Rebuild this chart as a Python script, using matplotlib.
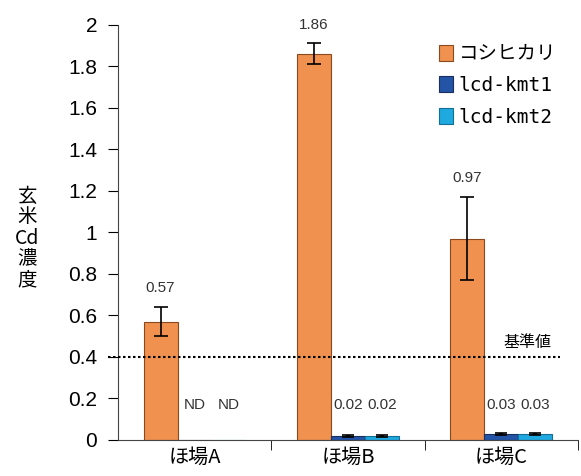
import numpy as np
import matplotlib
matplotlib.use("Agg")
import matplotlib.pyplot as plt

plt.rcParams['font.family'] = ['Noto Sans CJK JP', 'DejaVu Sans']

fields = ["ほ場A", "ほ場B", "ほ場C"]
series = ["コシヒカリ", "lcd-kmt1", "lcd-kmt2"]
koshi = [0.57, 1.86, 0.97]
koshi_err = [0.07, 0.05, 0.20]
kmt1 = [0.0, 0.02, 0.03]
kmt1_err = [0.0, 0.005, 0.005]
kmt2 = [0.0, 0.02, 0.03]
kmt2_err = [0.0, 0.005, 0.005]
koshi_lbl = ["0.57", "1.86", "0.97"]
kmt1_lbl = ["ND", "0.02", "0.03"]
kmt2_lbl = ["ND", "0.02", "0.03"]
limit = 0.4

colors = ["#F0914F", "#2354A6", "#1FA9E1"]
edges = ["#8B4A1E", "#1A2F5E", "#136F93"]

fig, ax = plt.subplots(figsize=(5.81, 4.76), dpi=100)
fig.subplots_adjust(left=0.203, right=0.995, top=0.948, bottom=0.076)

x = np.arange(len(fields))
w = 0.222
vals = [koshi, kmt1, kmt2]
errs = [koshi_err, kmt1_err, kmt2_err]
lbls = [koshi_lbl, kmt1_lbl, kmt2_lbl]
for i in range(3):
    pos = x + (i - 1) * w
    ax.bar(pos, vals[i], w, color=colors[i], edgecolor=edges[i], linewidth=0.8,
           label=series[i], zorder=2)
    e = np.array(errs[i])
    mask = e > 0
    ax.errorbar(pos[mask], np.array(vals[i])[mask], yerr=e[mask], fmt='none',
                ecolor='black', elinewidth=1.2 if i == 0 else 3,
                capsize=5 if i == 0 else 4, capthick=1.2, zorder=3)
    for j in range(3):
        if i == 0:
            ty = vals[i][j] + errs[i][j] + 0.09
        else:
            ty = 0.17
        ax.text(pos[j], ty, lbls[i][j], ha='center', va='center',
                fontsize=11, color='#333333', family='Liberation Sans')

ax.plot([-0.022, 0.96], [limit, limit], ls=(0, (1.2, 1.2)), color='black',
        lw=1.5, clip_on=False, zorder=4, transform=ax.get_yaxis_transform())
ax.text(0.89, 0.47, "基準値", ha='center', va='center', fontsize=11.5,
        transform=ax.get_yaxis_transform())

ax.set_xlim(-0.5, 2.5)
ax.set_ylim(0, 2)
ax.set_yticks(np.arange(0, 2.01, 0.2))
ax.set_yticklabels(["0", "0.2", "0.4", "0.6", "0.8", "1", "1.2", "1.4", "1.6", "1.8", "2"],
                   family='Liberation Sans', fontsize=15)
ax.set_xticks(x)
ax.set_xticklabels(fields, fontsize=14.5)
ax.tick_params(axis='x', length=0, pad=5)
ax.set_xticks([0.5, 1.5, 2.5], minor=True)
ax.tick_params(axis='x', which='minor', length=7, direction='out')
ax.tick_params(axis='y', length=7, direction='out', pad=8)
ax.spines['top'].set_visible(False)
ax.spines['right'].set_visible(False)
ax.spines['left'].set_color('#444444')
ax.spines['bottom'].set_color('#444444')

fig.text(0.047, 0.5, "玄\n米\nCd\n濃\n度", ha='center', va='center', fontsize=14,
         linespacing=1.0)

leg = ax.legend(loc='upper right', bbox_to_anchor=(0.99, 0.995), frameon=False,
                prop={'family': ['DejaVu Sans Mono', 'Noto Sans CJK JP'], 'size': 14},
                handlelength=0.7, handleheight=0.9, handletextpad=0.3,
                labelspacing=0.65)

fig.savefig("out.png", dpi=100)
